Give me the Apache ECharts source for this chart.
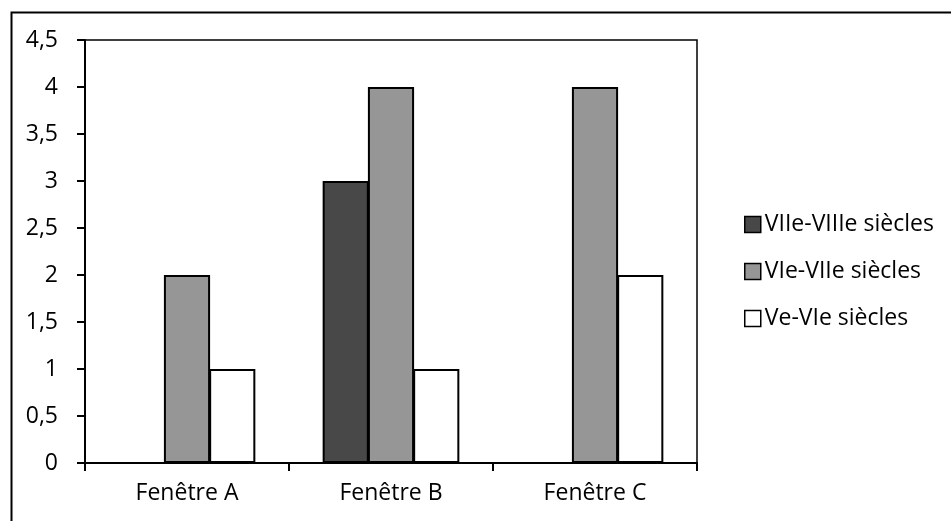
<!DOCTYPE html>
<html>
<head>
<meta charset="utf-8">
<script src="https://cdn.jsdelivr.net/npm/echarts@6/dist/echarts.min.js"></script>
<style>html,body{margin:0;padding:0;background:#fff;}#c{width:951px;height:521px;}</style>
</head>
<body>
<div id="c"></div>
<script>
const categories = ['Fenêtre A', 'Fenêtre B', 'Fenêtre C'];
const seriesNames = ['VIIe-VIIIe siècles', 'VIe-VIIe siècles', 'Ve-VIe siècles'];
const valsVII_VIII = [0, 3, 0];
const valsVI_VII = [2, 4, 4];
const valsV_VI = [1, 1, 2];
const seriesColors = ['#484848', '#969696', '#ffffff'];

const FONT = '"Open Sans", sans-serif';
const FS = 23;
const chart = echarts.init(document.getElementById('c'), null, {renderer: 'canvas'});
const dataSets = [valsVII_VIII, valsVI_VII, valsV_VI];
chart.setOption({
  animation: false,
  backgroundColor: '#fff',
  textStyle: {fontFamily: FONT, fontSize: FS},
  graphic: [{
    type: 'rect', left: 9, top: 10,
    shape: {width: 960, height: 540},
    style: {fill: 'none', stroke: '#000', lineWidth: 2}, silent: true
  }],
  grid: {left: 85, right: 254, top: 40, bottom: 58, show: true, borderColor: '#000', borderWidth: 1.5, backgroundColor: 'transparent'},
  legend: {
    orient: 'vertical', left: 739, top: 208, itemWidth: 16, itemHeight: 16, itemGap: 24,
    icon: 'rect',
    textStyle: {fontFamily: FONT, fontSize: FS, color: '#000', padding: [0, 0, 0, -1]},
    itemStyle: {borderColor: '#000', borderWidth: 1.5},
    data: seriesNames
  },
  xAxis: {
    type: 'category', data: categories,
    axisLine: {lineStyle: {color: '#000', width: 2}},
    axisTick: {show: true, length: 8, lineStyle: {color: '#000', width: 2}},
    axisLabel: {fontFamily: FONT, fontSize: FS, color: '#000', margin: 19}
  },
  yAxis: {
    type: 'value', min: 0, max: 4.5, interval: 0.5,
    splitLine: {show: false},
    axisLine: {show: true, lineStyle: {color: '#000', width: 2}},
    axisTick: {show: true, length: 8, lineStyle: {color: '#000', width: 2}},
    axisLabel: {fontFamily: FONT, fontSize: FS, color: '#000', margin: 27,
      formatter: v => String(v).replace('.', ',')}
  },
  series: seriesNames.map((n, i) => ({
    name: n, type: 'bar', data: dataSets[i],
    barGap: '-2%', barCategoryGap: '33%',
    itemStyle: {color: seriesColors[i], borderColor: '#000', borderWidth: 2}
  }))
});
</script>
</body>
</html>
